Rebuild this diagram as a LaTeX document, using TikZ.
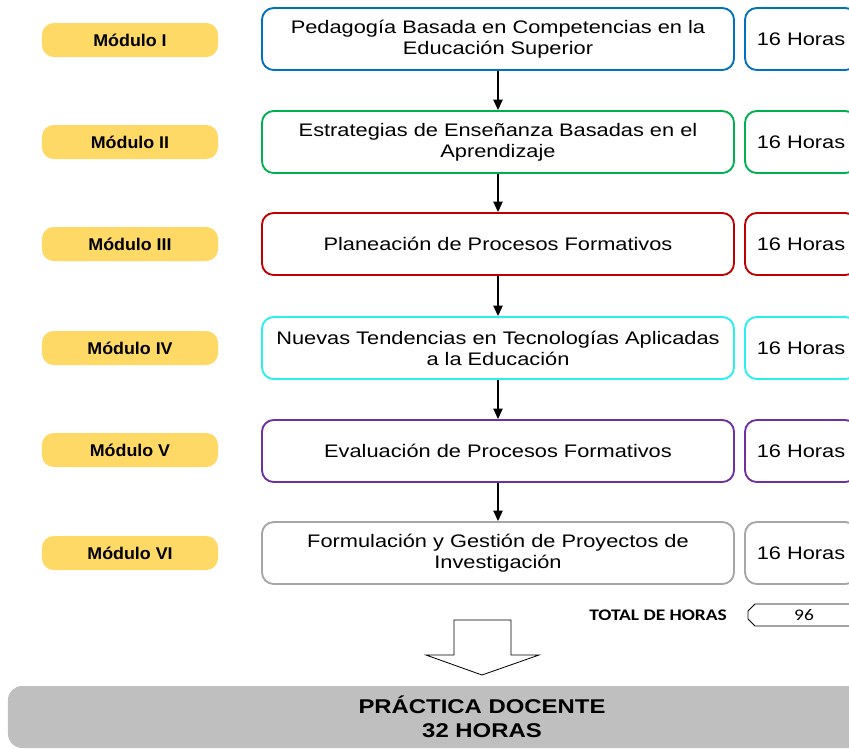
\documentclass[tikz,border=0pt]{standalone}
\usepackage{fontspec}
\setmainfont{Liberation Sans}[FakeStretch=1.2]
\newfontfamily\modfont{Liberation Sans}[FakeStretch=1.05]
\newfontfamily\calfont{Carlito}[FakeStretch=1.2]
\usetikzlibrary{arrows.meta,shapes.misc}

\definecolor{amarillo}{RGB}{255,217,102}
\definecolor{azul}{RGB}{0,112,192}
\definecolor{verde}{RGB}{0,176,80}
\definecolor{rojo}{RGB}{192,0,0}
\definecolor{cian}{RGB}{40,240,240}
\definecolor{morado}{RGB}{112,48,160}
\definecolor{gris}{RGB}{166,166,166}
\definecolor{grisfondo}{RGB}{191,191,191}

\begin{document}
\begin{tikzpicture}[x=0.03cm,y=-0.03cm,
	modulo/.style={fill=amarillo, rounded corners=10pt, minimum width=5.28cm, minimum height=1.02cm, font=\modfont\bfseries\fontsize{14.5}{17}\selectfont},
	tema/.style={draw=#1, fill=white, line width=1.6pt, rounded corners=10pt, minimum width=14.16cm, minimum height=1.86cm, align=center, font=\fontsize{15.5}{18}\selectfont},
	horas/.style={draw=#1, fill=white, line width=1.6pt, rounded corners=10pt, minimum width=3.36cm, minimum height=1.86cm, font=\fontsize{15.5}{18}\selectfont},
	flecha/.style={-{Triangle[width=8pt,length=9pt]}, line width=1.2pt}]
		\useasboundingbox (0,0) rectangle (849,748);
		\clip (0,0) rectangle (849,748);

		\draw (130,40) node [modulo] (m1) {Módulo I};
		\draw (130,142) node [modulo] (m2) {Módulo II};
		\draw (130,244) node [modulo] (m3) {Módulo III};
		\draw (130,348) node [modulo] (m4) {Módulo IV};
		\draw (130,450) node [modulo] (m5) {Módulo V};
		\draw (130,553) node [modulo] (m6) {Módulo VI};

		\draw (498,39) node [tema=azul] (t1) {Pedagogía Basada en Competencias en la\\Educación Superior};
		\draw (498,142) node [tema=verde] (t2) {Estrategias de Enseñanza Basadas en el\\Aprendizaje};
		\draw (498,244) node [tema=rojo] (t3) {Planeación de Procesos Formativos};
		\draw (498,348) node [tema=cian] (t4) {Nuevas Tendencias en Tecnologías Aplicadas\\a la Educación};
		\draw (498,451) node [tema=morado] (t5) {Evaluación de Procesos Formativos};
		\draw (498,553) node [tema=gris] (t6) {Formulación y Gestión de Proyectos de\\Investigación};

		\draw (801,39) node [horas=azul] (h1) {16 Horas};
		\draw (801,142) node [horas=verde] (h2) {16 Horas};
		\draw (801,244) node [horas=rojo] (h3) {16 Horas};
		\draw (801,348) node [horas=cian] (h4) {16 Horas};
		\draw (801,451) node [horas=morado] (h5) {16 Horas};
		\draw (801,553) node [horas=gris] (h6) {16 Horas};

		\draw
			(t1) edge [flecha] (t2)
			(t2) edge [flecha] (t3)
			(t3) edge [flecha] (t4)
			(t4) edge [flecha] (t5)
			(t5) edge [flecha] (t6)
		;

		\draw (731,615) node [anchor=east, font=\calfont\bfseries\fontsize{13.8}{16}\selectfont] (total) {TOTAL DE HORAS};
		\draw (804,615) node [chamfered rectangle, chamfered rectangle xsep=3pt, chamfered rectangle ysep=3pt, draw, line width=0.7pt, minimum width=3.36cm, minimum height=0.66cm, inner sep=0pt, font=\calfont\fontsize{13.8}{16}\selectfont] (suma) {96};

		% flecha grande hacia la practica
		\draw [line width=0.7pt, fill=white] (454,620) -- (511,620) -- (511,655) -- (539,655) -- (482,675) -- (426,655) -- (454,655) -- cycle;

		\draw (482,717) node [fill=grisfondo, rounded corners=12pt, minimum width=28.44cm, minimum height=1.86cm, align=center, font=\fontsize{17}{20.5}\selectfont\bfseries] (practica) {PRÁCTICA DOCENTE\\32 HORAS};
	\end{tikzpicture}
\end{document}
